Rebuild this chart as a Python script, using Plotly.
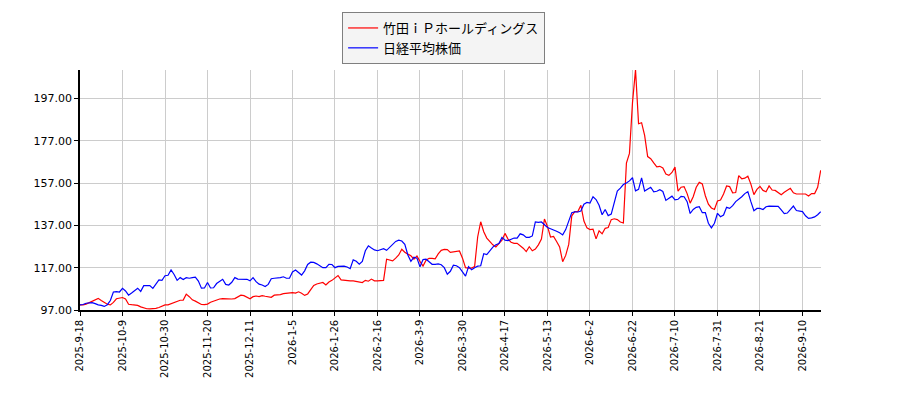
import plotly.graph_objects as go

tick_labels = ["2025-9-18", "2025-10-9", "2025-10-30", "2025-11-20", "2025-12-11",
               "2026-1-5", "2026-1-26", "2026-2-16", "2026-3-9", "2026-3-30",
               "2026-4-17", "2026-5-13", "2026-6-2", "2026-6-22", "2026-7-10",
               "2026-7-31", "2026-8-21", "2026-9-10"]
tick_every = 14

takeda = [
    99.4, 99.4, 99.8, 100.5, 101.2, 102.0, 102.5, 101.5, 100.5, 99.7,
    99.4, 100.6, 102.3, 102.6, 102.9, 102.2, 99.7, 99.5, 99.4, 99.2,
    98.5, 98.0, 97.6, 97.5, 97.5, 97.8, 98.2, 98.8, 99.4, 99.4,
    99.9, 100.6, 101.2, 101.6, 101.7, 104.5, 103.3, 101.8, 101.2, 100.5,
    99.6, 99.5, 99.8, 100.7, 101.2, 101.9, 102.2, 102.4, 102.3, 102.2,
    102.2, 102.4, 103.1, 104.0, 103.8, 103.0, 102.3, 103.3, 103.6, 103.3,
    103.8, 103.5, 103.4, 103.0, 104.0, 104.1, 104.3, 104.7, 104.9, 104.9,
    105.2, 105.0, 105.6, 104.9, 103.9, 104.6, 106.5, 108.6, 109.3, 109.5,
    110.0, 108.8, 110.2, 111.0, 112.0, 113.3, 111.2, 111.0, 111.0, 110.8,
    110.8, 110.6, 110.4, 110.0, 111.0, 110.6, 111.6, 110.8, 110.8, 110.8,
    111.0, 121.0, 120.5, 120.2, 121.5, 123.0, 125.7, 124.3, 123.4, 122.6,
    121.0, 122.5, 120.0, 117.8, 120.5, 121.4, 121.4, 121.2, 123.5, 125.2,
    125.6, 125.5, 124.2, 124.5, 124.5, 124.9, 121.5, 117.0, 116.8, 116.8,
    117.6, 131.5, 138.7, 134.0, 131.0, 129.3, 127.8, 126.8, 128.2, 130.0,
    133.2, 130.5, 129.0, 128.5, 128.5, 127.4, 126.2, 124.6, 126.9, 125.0,
    125.8, 127.8, 130.5, 140.0, 136.5, 131.5, 131.8, 129.4, 126.8, 119.8,
    122.8, 128.0, 141.5, 143.5, 143.5, 146.5, 139.0, 135.8, 135.0, 135.2,
    130.6, 134.4, 133.0, 135.6, 136.0, 139.7, 140.1, 139.7, 138.6, 138.1,
    166.4, 171.0, 195.0, 210.5, 185.0, 185.5, 179.5, 169.5, 168.5, 166.5,
    164.6, 164.9, 164.1, 161.2, 160.6, 162.0, 164.5, 153.2, 155.0, 155.3,
    152.0, 147.5, 150.5, 155.0, 157.3, 156.6, 151.0, 147.0, 145.2, 144.5,
    148.5, 149.0, 151.8, 155.6, 155.3, 152.4, 152.5, 160.5, 159.0, 159.3,
    160.2, 156.5, 151.5, 154.0, 155.4, 153.5, 152.9, 155.6, 153.7, 153.5,
    152.4, 151.5, 152.6, 153.7, 154.5, 152.4, 151.8, 151.8, 151.8, 151.8,
    150.9, 152.0, 152.0, 155.0, 163.0,
]

nikkei = [
    99.4, 99.6, 100.2, 100.5, 100.5, 100.0, 99.4, 99.2, 98.7, 99.5,
    101.5, 105.5, 105.7, 105.5, 107.2, 106.0, 104.0, 105.0, 106.3, 107.3,
    105.8, 108.5, 108.5, 108.5, 107.2, 109.5, 111.2, 111.0, 113.2, 113.4,
    115.9, 113.8, 111.0, 112.3, 111.4, 112.3, 112.0, 112.3, 112.5, 110.7,
    107.3, 107.4, 110.0, 107.4, 107.5, 109.5, 110.5, 111.5, 109.1, 108.8,
    110.1, 112.3, 111.6, 111.6, 111.6, 111.5, 110.8, 112.3, 110.4, 109.2,
    108.8, 108.1, 109.1, 111.8, 112.0, 112.0, 112.3, 112.7, 112.0, 112.0,
    115.0, 115.9, 114.8, 113.5, 115.5, 118.5, 119.6, 119.5, 118.8, 118.0,
    117.0, 117.0, 118.6, 118.5, 117.0, 117.6, 117.7, 117.7, 117.3, 116.5,
    120.7, 120.0, 118.6, 119.9, 125.0, 127.3, 126.3, 125.4, 125.0, 125.5,
    126.0, 125.2, 126.5, 128.0, 129.4, 130.0, 129.6, 128.0, 123.0, 120.0,
    122.0, 121.5, 117.4, 120.8, 121.0, 119.8, 118.6, 118.6, 118.8, 118.4,
    117.0, 113.9, 115.3, 118.2, 117.9, 117.0, 114.8, 113.0, 117.5, 116.0,
    117.0, 117.7, 117.9, 123.6, 123.2, 124.9, 126.7, 127.8, 128.4, 131.3,
    130.0, 129.8, 130.4, 131.0, 131.0, 133.0, 132.5, 131.3, 131.3, 132.0,
    138.6, 138.4, 138.6, 137.5, 136.0, 135.4, 134.9, 134.2, 133.5, 132.5,
    135.0, 139.5, 143.0, 143.4, 143.3, 143.8, 147.0, 147.8, 147.5, 150.5,
    149.2, 146.5, 142.0, 144.5, 141.6, 142.3, 148.0, 153.2, 154.6, 156.3,
    157.0, 158.0, 159.5, 153.3, 154.0, 159.4, 153.2, 154.0, 155.0, 152.8,
    153.1, 153.8, 153.0, 148.8, 150.0, 150.8, 149.0, 149.3, 150.7, 150.5,
    148.2, 142.6, 144.5, 145.5, 145.8, 143.0, 143.0, 138.0, 135.8, 138.0,
    142.7, 141.1, 141.9, 145.5, 145.0, 146.3, 148.2, 149.2, 150.5, 152.0,
    152.9, 148.2, 143.9, 145.0, 145.0, 144.5, 145.8, 146.1, 146.1, 146.1,
    146.0, 144.3, 142.5, 142.8, 144.6, 146.1, 144.0, 143.7, 143.5, 141.5,
    140.3, 140.5, 141.0, 142.0, 143.5,
]

y_ticks = [97, 117, 137, 157, 177, 197]

x_idx = list(range(len(takeda)))

fig = go.Figure()
fig.add_trace(go.Scatter(x=x_idx, y=takeda, mode="lines", name="竹田ｉＰホールディングス",
                         line=dict(color="#ff0000", width=1.2)))
fig.add_trace(go.Scatter(x=x_idx, y=nikkei, mode="lines", name="日経平均株価",
                         line=dict(color="#0000ff", width=1.2)))

fig.update_layout(
    width=900, height=400,
    margin=dict(l=72, r=87, t=62, b=98, autoexpand=False),
    paper_bgcolor="white", plot_bgcolor="white",
    font=dict(family="DejaVu Sans", size=11, color="#000000"),
    showlegend=True,
    legend=dict(
        xref="container", yref="container",
        x=0.484, y=0.99, xanchor="center", yanchor="top",
        bgcolor="#f4f4f4", bordercolor="#7f7f7f", borderwidth=1,
        font=dict(family="Noto Sans CJK JP", size=13, color="#000000"),
        itemwidth=30,
    ),
)
fig.update_xaxes(
    range=[0, len(takeda) - 0.9],
    tickmode="array",
    tickvals=[i * tick_every for i in range(len(tick_labels))],
    ticktext=tick_labels,
    tickangle=-90,
    showgrid=True, gridcolor="#cccccc", gridwidth=1,
    showline=True, linecolor="#000000", linewidth=1.5,
    ticks="outside", ticklen=4, tickcolor="#000000",
    zeroline=False,
    tickfont=dict(family="DejaVu Sans", size=10),
)
fig.update_yaxes(
    range=[97, 210.4],
    tickmode="array",
    tickvals=y_ticks,
    ticktext=[f"{v:.2f}" for v in y_ticks],
    showgrid=True, gridcolor="#cccccc", gridwidth=1,
    showline=True, linecolor="#000000", linewidth=1.5,
    ticks="outside", ticklen=4, tickcolor="#000000",
    zeroline=False,
    tickfont=dict(family="DejaVu Sans", size=11),
)

fig.write_html("out.html")
